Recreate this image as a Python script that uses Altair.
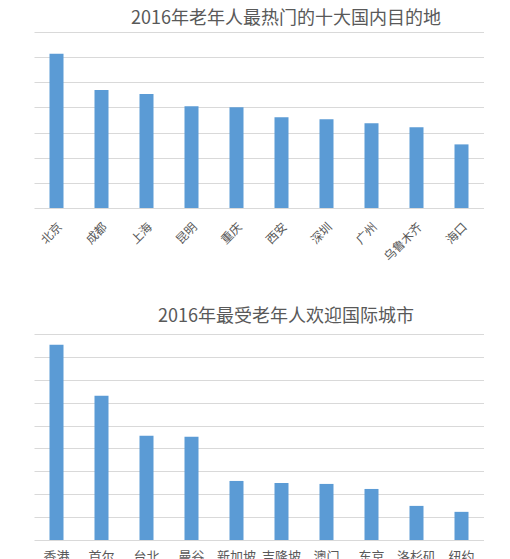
import altair as alt
import pandas as pd

cities1 = ["北京", "成都", "上海", "昆明", "重庆", "西安", "深圳", "广州", "乌鲁木齐", "海口"]
values1 = [6.13, 4.69, 4.53, 4.05, 4.01, 3.61, 3.53, 3.37, 3.21, 2.53]
cities2 = ["香港", "首尔", "台北", "曼谷", "新加坡", "吉隆坡", "澳门", "东京", "洛杉矶", "纽约"]
values2 = [8.53, 6.30, 4.55, 4.51, 2.58, 2.49, 2.45, 2.23, 1.49, 1.23]
title1 = "2016年老年人最热门的十大国内目的地"
title2 = "2016年最受老年人欢迎国际城市"
grid1 = [0, 1, 2, 3, 4, 5, 6, 7]
grid2 = [0, 1, 2, 3, 4, 5, 6, 7, 8, 9]

FONT = "Noto Sans CJK SC"
BLUE = "#5B9BD5"
TEXT = "#595959"
GRID = "#D9D9D9"

df1 = pd.DataFrame({"city": cities1, "value": values1})
df2 = pd.DataFrame({"city": cities2, "value": values2})


def make(df, cats, grid, title, angle, height, title_offset, label_pad, label_size):
    if angle:
        xaxis = alt.Axis(labelAngle=angle, labelAlign="right", labelBaseline="top",
                         labelPadding=label_pad, ticks=False, domain=False, grid=False,
                         labelFont=FONT, labelFontSize=label_size, labelColor=TEXT)
    else:
        xaxis = alt.Axis(labelAngle=0, labelAlign="center", labelBaseline="top",
                         labelPadding=label_pad, ticks=False, domain=False, grid=False,
                         labelFont=FONT, labelFontSize=label_size, labelColor=TEXT)
    return alt.Chart(
        df,
        title=alt.Title(title, fontSize=18, font=FONT, color=TEXT, fontWeight="normal",
                        anchor="middle", offset=title_offset, dx=27),
    ).mark_bar(size=14, color=BLUE).encode(
        x=alt.X("city:N", sort=cats, title=None,
                scale=alt.Scale(paddingInner=0, paddingOuter=0), axis=xaxis),
        y=alt.Y("value:Q", title=None,
                scale=alt.Scale(domain=[grid[0], grid[-1]], nice=False),
                axis=alt.Axis(values=grid, labels=False, ticks=False, domain=False,
                              grid=True, gridColor=GRID, gridWidth=1, minExtent=0)),
    ).properties(width=450, height=height)


top = make(df1, cities1, grid1, title1, -45, 176, 4, 13, 12)
bottom = make(df2, cities2, grid2, title2, 0, 206, 8, 10, 13)

chart = alt.vconcat(top, bottom, spacing=126, bounds="flush").properties(
    padding={"left": 26, "top": 2, "right": 0, "bottom": 0},
    background="white",
).configure_view(stroke=None)

chart.save("out.html", embed_options={"renderer": "svg", "actions": False})
